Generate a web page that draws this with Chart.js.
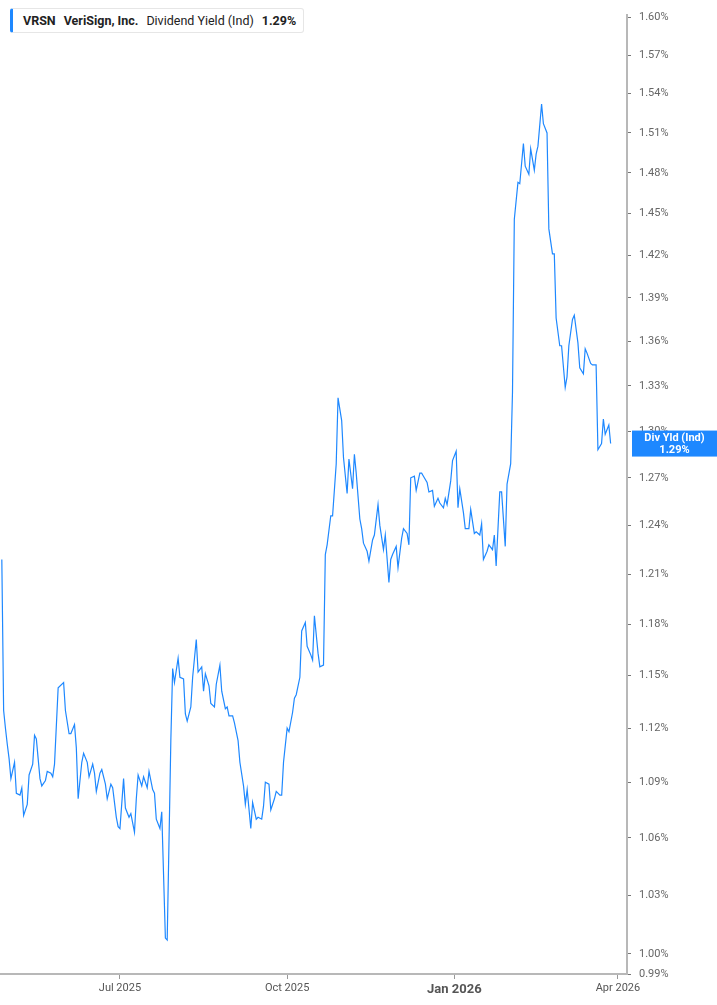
<!DOCTYPE html>
<html>
<head>
<meta charset="utf-8">
<script src="https://cdn.jsdelivr.net/npm/chart.js@4.4.1/dist/chart.umd.min.js"></script>
<style>
  html, body { margin: 0; padding: 0; background: #fff; }
  #wrap { position: relative; width: 717px; height: 1005px; }
  #legend {
    position: absolute; left: 10px; top: 8px; height: 25px;
    padding: 0 7px 0 10px; box-sizing: border-box;
    border: 1px solid #e6e6e6; border-left: 3px solid #1e88ff; border-radius: 3px;
    background: #fff; font-family: Roboto, "Noto Sans", sans-serif; font-size: 12.5px;
    color: #222; line-height: 23px; white-space: nowrap;
  }
  #legend span { margin-right: 8px; }
  #legend span:last-child { margin-right: 0; }
  #legend .b { font-weight: bold; }
</style>
</head>
<body>
<div id="wrap">
  <canvas id="yieldChart" width="717" height="1005"></canvas>
  <div id="legend"></div>
</div>
<script>
// VRSN dividend yield (indicated)
const ticker = 'VRSN';
const company = 'VeriSign, Inc.';
const metric = 'Dividend Yield (Ind)';
const badgeTitle = 'Div Yld (Ind)';

const dates = [
  '2025-04-27','2025-04-28','2025-04-29','2025-04-30','2025-05-01','2025-05-02','2025-05-04','2025-05-05','2025-05-07','2025-05-08',
  '2025-05-09','2025-05-11','2025-05-12','2025-05-14','2025-05-15','2025-05-16','2025-05-18','2025-05-19','2025-05-21','2025-05-22',
  '2025-05-24','2025-05-25','2025-05-26','2025-05-28','2025-05-31','2025-06-01','2025-06-03','2025-06-04','2025-06-06','2025-06-07',
  '2025-06-08','2025-06-10','2025-06-11','2025-06-13','2025-06-14','2025-06-16','2025-06-17','2025-06-18','2025-06-20','2025-06-21',
  '2025-06-23','2025-06-24','2025-06-26','2025-06-27','2025-06-29','2025-06-30','2025-07-01','2025-07-03','2025-07-04','2025-07-06',
  '2025-07-07','2025-07-09','2025-07-10','2025-07-11','2025-07-13','2025-07-14','2025-07-16','2025-07-17','2025-07-19','2025-07-20',
  '2025-07-21','2025-07-23','2025-07-24','2025-07-26','2025-07-27','2025-07-29','2025-07-30','2025-07-31','2025-08-02','2025-08-03',
  '2025-08-05','2025-08-06','2025-08-07','2025-08-09','2025-08-10','2025-08-12','2025-08-13','2025-08-15','2025-08-16','2025-08-17',
  '2025-08-19','2025-08-20','2025-08-22','2025-08-23','2025-08-25','2025-08-26','2025-08-28','2025-08-29','2025-08-30','2025-09-01',
  '2025-09-02','2025-09-04','2025-09-05','2025-09-07','2025-09-08','2025-09-09','2025-09-11','2025-09-12','2025-09-14','2025-09-15',
  '2025-09-17','2025-09-18','2025-09-19','2025-09-21','2025-09-22','2025-09-24','2025-09-25','2025-09-27','2025-09-28','2025-09-29',
  '2025-10-01','2025-10-02','2025-10-04','2025-10-05','2025-10-06','2025-10-08','2025-10-09','2025-10-11','2025-10-12','2025-10-14',
  '2025-10-15','2025-10-16','2025-10-18','2025-10-19','2025-10-21','2025-10-22','2025-10-23','2025-10-25','2025-10-26','2025-10-28',
  '2025-10-29','2025-10-31','2025-11-01','2025-11-03','2025-11-04','2025-11-06','2025-11-07','2025-11-08','2025-11-10','2025-11-11',
  '2025-11-12','2025-11-14','2025-11-15','2025-11-17','2025-11-18','2025-11-20','2025-11-21','2025-11-23','2025-11-24','2025-11-26',
  '2025-11-27','2025-11-28','2025-11-30','2025-12-01','2025-12-03','2025-12-04','2025-12-06','2025-12-07','2025-12-08','2025-12-10',
  '2025-12-11','2025-12-13','2025-12-14','2025-12-15','2025-12-17','2025-12-18','2025-12-20','2025-12-21','2025-12-23','2025-12-24',
  '2025-12-26','2025-12-27','2025-12-28','2025-12-30','2025-12-31','2026-01-02','2026-01-03','2026-01-04','2026-01-06','2026-01-07',
  '2026-01-09','2026-01-10','2026-01-12','2026-01-13','2026-01-15','2026-01-16','2026-01-17','2026-01-19','2026-01-20','2026-01-22',
  '2026-01-23','2026-01-24','2026-01-26','2026-01-27','2026-01-29','2026-01-30','2026-02-01','2026-02-02','2026-02-03','2026-02-05',
  '2026-02-06','2026-02-08','2026-02-09','2026-02-11','2026-02-12','2026-02-14','2026-02-15','2026-02-16','2026-02-18','2026-02-19',
  '2026-02-21','2026-02-22','2026-02-24','2026-02-25','2026-02-26','2026-02-28','2026-03-01','2026-03-03','2026-03-04','2026-03-05',
  '2026-03-07','2026-03-08','2026-03-10','2026-03-11','2026-03-13','2026-03-14','2026-03-15','2026-03-17','2026-03-18','2026-03-20',
  '2026-03-21','2026-03-23','2026-03-24','2026-03-25','2026-03-27','2026-03-28'
];

const yields = [
  1.219,1.130,1.120,1.111,1.103,1.092,1.101,1.084,1.083,1.087,
  1.072,1.078,1.094,1.100,1.116,1.114,1.092,1.088,1.091,1.096,
  1.095,1.093,1.100,1.143,1.146,1.130,1.117,1.117,1.122,1.109,
  1.081,1.101,1.106,1.101,1.093,1.100,1.095,1.085,1.095,1.097,
  1.089,1.081,1.089,1.087,1.071,1.066,1.065,1.092,1.076,1.071,
  1.073,1.063,1.081,1.094,1.088,1.093,1.087,1.096,1.086,1.084,
  1.070,1.065,1.074,1.008,1.007,1.113,1.154,1.146,1.160,1.149,
  1.148,1.128,1.124,1.132,1.149,1.171,1.152,1.155,1.141,1.151,
  1.144,1.134,1.132,1.145,1.156,1.141,1.131,1.132,1.127,1.127,
  1.123,1.113,1.101,1.088,1.078,1.086,1.065,1.079,1.070,1.071,
  1.070,1.077,1.090,1.089,1.075,1.081,1.085,1.083,1.083,1.101,
  1.120,1.118,1.129,1.137,1.139,1.149,1.176,1.181,1.167,1.162,
  1.159,1.185,1.163,1.155,1.156,1.222,1.228,1.246,1.246,1.279,
  1.322,1.307,1.283,1.260,1.282,1.263,1.285,1.273,1.244,1.238,
  1.229,1.224,1.218,1.231,1.234,1.253,1.240,1.225,1.234,1.205,
  1.219,1.222,1.227,1.214,1.232,1.238,1.235,1.228,1.270,1.271,
  1.262,1.273,1.273,1.271,1.267,1.261,1.262,1.252,1.257,1.254,
  1.251,1.257,1.253,1.268,1.281,1.287,1.251,1.263,1.248,1.238,
  1.238,1.250,1.235,1.236,1.234,1.241,1.219,1.224,1.228,1.225,
  1.234,1.215,1.261,1.261,1.227,1.266,1.279,1.326,1.446,1.473,
  1.472,1.502,1.485,1.479,1.498,1.482,1.494,1.500,1.532,1.517,
  1.510,1.439,1.421,1.421,1.376,1.357,1.357,1.329,1.336,1.357,
  1.375,1.378,1.359,1.342,1.338,1.355,1.352,1.345,1.344,1.344,
  1.288,1.292,1.308,1.298,1.304,1.292
];

const xRange = ['2025-04-26', '2026-04-06'];
const xTickDates = ['2025-07-01', '2025-10-01', '2026-01-01', '2026-04-01'];
const xTickLabels = ['Jul 2025', 'Oct 2025', 'Jan 2026', 'Apr 2026'];

const yRange = [0.99, 1.6024];
const yTicks = [0.99, 1.00, 1.03, 1.06, 1.09, 1.12, 1.15, 1.18, 1.21, 1.24, 1.27,
                1.30, 1.33, 1.36, 1.39, 1.42, 1.45, 1.48, 1.51, 1.54, 1.57, 1.60];

const lineColor = '#1e88ff';
const fontFamily = 'Roboto, "Noto Sans", sans-serif';

const dayNum = s => Date.UTC(+s.slice(0, 4), +s.slice(5, 7) - 1, +s.slice(8, 10)) / 86400000;
const pct = v => v.toFixed(2) + '%';
const lastYield = yields[yields.length - 1];

// header legend
document.getElementById('legend').innerHTML =
  '<span class="b">' + ticker + '</span><span class="b">' + company + '</span>' +
  '<span>' + metric + '</span><span class="b">' + pct(lastYield) + '</span>';

// blue badge with the latest value on the right axis
const lastValueBadge = {
  id: 'lastValueBadge',
  afterDraw(chart) {
    const ctx = chart.ctx;
    const ys = chart.scales.y;
    const y = ys.getPixelForValue(lastYield);
    const left = ys.left + 5;
    const right = chart.width;
    ctx.save();
    ctx.fillStyle = lineColor;
    ctx.fillRect(left, y - 13, right - left, 26);
    ctx.fillStyle = '#fff';
    ctx.font = 'bold 11px ' + fontFamily;
    ctx.textAlign = 'center';
    ctx.textBaseline = 'middle';
    ctx.fillText(badgeTitle, (left + right) / 2, y - 5.5);
    ctx.fillText(pct(lastYield), (left + right) / 2, y + 6.5);
    ctx.restore();
  }
};

const ctx1 = document.getElementById('yieldChart').getContext('2d');
const yieldChart = new Chart(ctx1, {
  type: 'line',
  data: {
    datasets: [{
      label: metric,
      data: dates.map((d, i) => ({ x: dayNum(d), y: yields[i] })),
      borderColor: lineColor,
      borderWidth: 1.2,
      pointRadius: 0,
      tension: 0,
      fill: false
    }]
  },
  options: {
    responsive: false,
    animation: false,
    layout: { padding: 0 },
    plugins: {
      legend: { display: false },
      tooltip: { enabled: false }
    },
    scales: {
      x: {
        type: 'linear',
        min: dayNum(xRange[0]),
        max: dayNum(xRange[1]),
        afterBuildTicks: s => { s.ticks = xTickDates.map(d => ({ value: dayNum(d) })); },
        afterFit: s => { s.height = 31; },
        grid: { drawOnChartArea: false, drawTicks: true, tickLength: 5, tickColor: '#999' },
        border: { display: true, color: '#b8b8b8', width: 2 },
        ticks: {
          autoSkip: false,
          maxRotation: 0,
          padding: 3,
          color: '#555',
          font: c => (c.index === 2 ? { family: fontFamily, size: 13, weight: 'bold' } : { family: fontFamily, size: 11 }),
          callback: (v, i) => xTickLabels[i]
        }
      },
      y: {
        type: 'logarithmic',
        position: 'right',
        min: yRange[0],
        max: yRange[1],
        afterBuildTicks: s => { s.ticks = yTicks.map(v => ({ value: v })); },
        afterFit: s => { s.width = 90; },
        grid: { drawOnChartArea: false, drawTicks: true, tickLength: 4, tickColor: '#777' },
        border: { display: true, color: '#b8b8b8', width: 2 },
        ticks: {
          autoSkip: false,
          padding: 8,
          color: '#666',
          font: { family: fontFamily, size: 11 },
          callback: v => pct(v)
        }
      }
    }
  },
  plugins: [lastValueBadge]
});
</script>
</body>
</html>
